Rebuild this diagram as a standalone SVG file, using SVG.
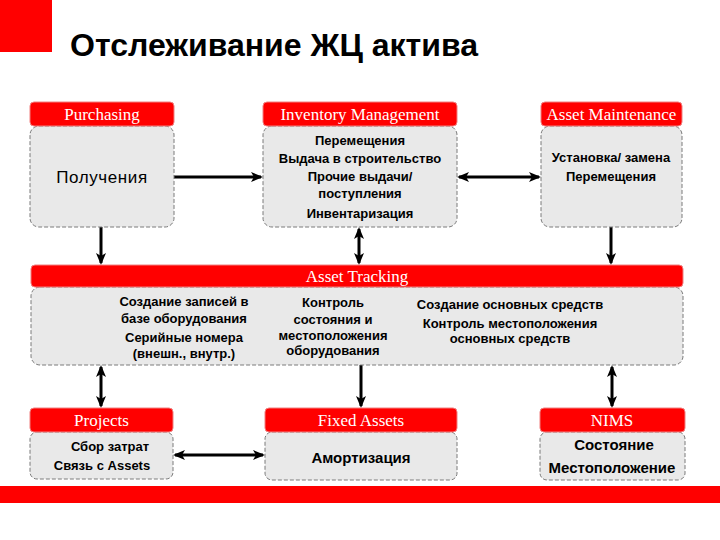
<svg xmlns="http://www.w3.org/2000/svg" width="720" height="540" viewBox="0 0 720 540">
<style>
.hdr{fill:#ff0000;stroke:#f08080;stroke-width:1}
.body{fill:#e9e9e9;stroke:#7a7a7a;stroke-width:1;stroke-dasharray:4 2}
.ht{font-family:"Liberation Serif",serif;font-size:17px;fill:#ffffff;text-anchor:middle}
.bt{font-family:"Liberation Sans",Arial,sans-serif;font-size:13px;font-weight:bold;fill:#000;text-anchor:middle}
.big{font-family:"Liberation Sans",Arial,sans-serif;font-size:17px;letter-spacing:0.6px;fill:#000;text-anchor:middle}
.mid{font-family:"Liberation Sans",Arial,sans-serif;font-size:15px;font-weight:bold;fill:#000;text-anchor:middle}
.ln{stroke:#000;stroke-width:3;fill:none}
.one{marker-end:url(#ah)}
.two{marker-start:url(#ah);marker-end:url(#ah)}
</style>
<defs>
<marker id="ah" viewBox="0 0 12 10" refX="10" refY="5" markerWidth="12" markerHeight="10" markerUnits="userSpaceOnUse" orient="auto-start-reverse">
<path d="M0,0 L12,5 L0,10 L3,5 z" fill="#000"/>
</marker>
</defs>
<rect width="720" height="540" fill="#ffffff"/>
<rect x="0" y="0" width="52" height="52" fill="#ff0000"/>
<text x="70" y="56" font-family="'Liberation Sans',Arial,sans-serif" font-size="31" font-weight="bold" fill="#000" textLength="408" lengthAdjust="spacingAndGlyphs">Отслеживание ЖЦ актива</text>
<rect x="0" y="486" width="720" height="17" fill="#ff0000"/>

<g id="connectors">
<line class="ln one" x1="174" y1="177" x2="261" y2="177"/>
<line class="ln two" x1="459" y1="177" x2="539" y2="177"/>
<line class="ln one" x1="101" y1="227" x2="101" y2="263"/>
<line class="ln two" x1="359" y1="229" x2="359" y2="263"/>
<line class="ln one" x1="611" y1="227" x2="611" y2="263"/>
<line class="ln two" x1="101" y1="367" x2="101" y2="406"/>
<line class="ln one" x1="361" y1="365" x2="361" y2="406"/>
<line class="ln two" x1="612" y1="367" x2="612" y2="406"/>
<line class="ln two" x1="175" y1="455" x2="263" y2="455"/>
</g>

<g id="purchasing">
<rect class="body" x="30" y="126" width="144" height="101" rx="9"/>
<rect class="hdr" x="30" y="102" width="144" height="24" rx="4"/>
<text class="ht" x="102" y="120">Purchasing</text>
<text class="big" x="102" y="183">Получения</text>
</g>

<g id="inventory">
<rect class="body" x="263" y="126" width="194" height="101" rx="9"/>
<rect class="hdr" x="263" y="102" width="194" height="24" rx="4"/>
<text class="ht" x="360" y="120">Inventory Management</text>
<text class="bt" x="360" y="145">Перемещения</text>
<text class="bt" x="360" y="163">Выдача в строительство</text>
<text class="bt" x="360" y="181">Прочие выдачи/</text>
<text class="bt" x="360" y="198">поступления</text>
<text class="bt" x="360" y="218">Инвентаризация</text>
</g>

<g id="asset-maintenance">
<rect class="body" x="541" y="126" width="141" height="101" rx="9"/>
<rect class="hdr" x="541" y="102" width="141" height="24" rx="4"/>
<text class="ht" x="611.5" y="120">Asset Maintenance</text>
<text class="bt" x="611" y="162">Установка/ замена</text>
<text class="bt" x="611" y="181">Перемещения</text>
</g>

<g id="asset-tracking">
<rect class="body" x="31" y="287" width="652" height="78" rx="9"/>
<rect class="hdr" x="31" y="265" width="652" height="22" rx="4"/>
<text class="ht" x="357" y="282">Asset Tracking</text>
<text class="bt" x="184" y="306">Создание записей в</text>
<text class="bt" x="184" y="323">базе оборудования</text>
<text class="bt" x="184" y="342">Серийные номера</text>
<text class="bt" x="184" y="358">(внешн., внутр.)</text>
<text class="bt" x="333" y="307">Контроль</text>
<text class="bt" x="333" y="324">состояния и</text>
<text class="bt" x="333" y="340">местоположения</text>
<text class="bt" x="333" y="355">оборудования</text>
<text class="bt" x="510" y="309">Создание основных средств</text>
<text class="bt" x="510" y="328">Контроль местоположения</text>
<text class="bt" x="510" y="343">основных средств</text>
</g>

<g id="projects">
<rect class="body" x="30" y="432" width="143" height="47" rx="7"/>
<rect class="hdr" x="30" y="408" width="143" height="24" rx="4"/>
<text class="ht" x="101.5" y="426">Projects</text>
<text class="bt" x="110" y="451">Сбор затрат</text>
<text class="bt" x="102" y="470">Связь с Assets</text>
</g>

<g id="fixed-assets">
<rect class="body" x="265" y="432" width="192" height="48" rx="7"/>
<rect class="hdr" x="265" y="408" width="192" height="24" rx="4"/>
<text class="ht" x="361" y="426">Fixed Assets</text>
<text class="mid" x="361" y="463" font-size="16">Амортизация</text>
</g>

<g id="nims">
<rect class="body" x="540" y="432" width="145" height="48" rx="7"/>
<rect class="hdr" x="540" y="408" width="145" height="24" rx="4"/>
<text class="ht" x="612" y="426">NIMS</text>
<text class="mid" x="614" y="450">Состояние</text>
<text class="mid" x="612" y="473">Местоположение</text>
</g>
</svg>
